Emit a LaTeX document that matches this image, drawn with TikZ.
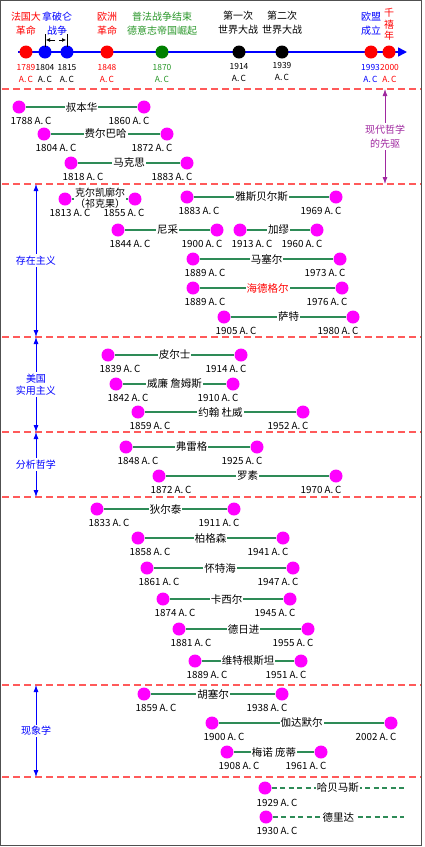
\documentclass[tikz,border=0pt]{standalone}
\usepackage{fontspec}
\setmainfont{Noto Sans CJK SC}
\usetikzlibrary{arrows.meta}
\definecolor{tred}{RGB}{255,0,0}
\definecolor{tblue}{RGB}{0,0,255}
\definecolor{tgreen}{RGB}{0,128,0}
\definecolor{tgreentext}{RGB}{40,150,40}
\definecolor{lifegreen}{RGB}{46,139,87}
\definecolor{sepred}{RGB}{255,90,90}
\definecolor{tpurple}{RGB}{160,40,160}
\definecolor{pmagenta}{RGB}{255,0,255}
\definecolor{bordergray}{RGB}{80,80,80}
\tikzset{
  tdot/.style={circle, minimum size=13pt, inner sep=0pt, draw=none},
  pdot/.style={circle, fill=pmagenta, minimum size=13pt, inner sep=0pt, draw=none},
  toplab/.style={align=center, font=\fontsize{10}{14}\selectfont, inner sep=0pt},
  topyear/.style={align=center, font=\fontsize{8.4}{12}\selectfont, inner sep=0pt},
  life/.style={draw=lifegreen, line width=2.2pt},
  lifedash/.style={draw=lifegreen, line width=2.2pt, dash pattern=on 5pt off 3.5pt},
  namebox/.style={fill=white, inner sep=1pt, font=\fontsize{10.5}{11}\selectfont},
  yearlab/.style={inner sep=0pt, font=\fontsize{9.8}{10}\selectfont},
  sep/.style={draw=sepred, line width=1.3pt, dash pattern=on 7pt off 4pt},
  sidearrow/.style={draw=tblue, line width=0.8pt, {Latex[length=7pt,width=5pt]}-{Latex[length=7pt,width=5pt]}},
  sidelab/.style={fill=white, text=tblue, align=center, inner sep=1.5pt, font=\fontsize{10}{12}\selectfont},
}
\newcommand{\philrow}[8]{%
  \node[pdot] (#1a) at (#2,#4) {};
  \node[pdot] (#1b) at (#3,#4) {};
  \draw[life] (#1a) -- (#1b) node[midway, namebox, text=#8] (#1n) {#5};
  \node[yearlab] (#1ya) at (#2+12,#4+14) {#6 A.\,C};
  \node[yearlab] (#1yb) at (#3-15,#4+14) {#7 A.\,C};
}
\begin{document}
\begin{tikzpicture}[x=1pt,y=-1pt]
\useasboundingbox (0,0) rectangle (424,847);
\draw[bordergray, line width=0.8pt] (0.5,0.5) rectangle (421.5,845.5);

% ---------- top timeline ----------
\coordinate (tl0) at (18,52);
\coordinate (tl1) at (407,52);
\draw[tblue, line width=1.6pt, -{Triangle[length=9pt,width=9pt]}] (tl0) -- (tl1);

\node[tdot, fill=tred]   (e1789) at (26,52) {};
\node[tdot, fill=tblue]  (e1804) at (45,52) {};
\node[tdot, fill=tblue]  (e1815) at (67,52) {};
\node[tdot, fill=tred]   (e1848) at (107,52) {};
\node[tdot, fill=tgreen] (e1870) at (162,52) {};
\node[tdot, fill=black]  (e1914) at (239,52) {};
\node[tdot, fill=black]  (e1939) at (282,52) {};
\node[tdot, fill=tred]   (e1993) at (371,52) {};
\node[tdot, fill=tred]   (e2000) at (389,52) {};

\node[toplab, text=tred]       (t1789) at (26,24)  {法国大\\革命};
\node[toplab, text=tblue]      (t1804) at (57,24)  {拿破仑\\战争};
\node[toplab, text=tred]       (t1848) at (107,24) {欧洲\\革命};
\node[toplab, text=tgreentext] (t1870) at (162,24) {普法战争结束\\德意志帝国崛起};
\node[toplab, text=black]      (t1914) at (238,23) {第一次\\世界大战};
\node[toplab, text=black]      (t1939) at (282,23) {第二次\\世界大战};
\node[toplab, text=tblue]      (t1993) at (371,24) {欧盟\\成立};
\node[toplab, text=tred, font=\fontsize{10}{11.5}\selectfont] (t2000) at (389,24.5) {千\\禧\\年};

% bracket for Napoleonic wars
\coordinate (bl0) at (45,34);
\coordinate (bl1) at (45,47);
\coordinate (br0) at (67,34);
\coordinate (br1) at (67,47);
\draw[black, line width=0.8pt] (bl0) -- (bl1);
\draw[black, line width=0.8pt] (br0) -- (br1);
\coordinate (ba0) at (55,40);
\coordinate (ba1) at (46,40);
\coordinate (bb0) at (59,40);
\coordinate (bb1) at (66,40);
\draw[black, line width=0.7pt, -{Latex[length=4pt,width=4pt]}] (ba0) -- (ba1);
\draw[black, line width=0.7pt, -{Latex[length=4pt,width=4pt]}] (bb0) -- (bb1);

\node[topyear, text=tred]       (y1789) at (26,74)  {1789\\A.\,C};
\node[topyear, text=black]      (y1804) at (45,74)  {1804\\A.\,C};
\node[topyear, text=black]      (y1815) at (67,74)  {1815\\A.\,C};
\node[topyear, text=tred]       (y1848) at (107,74) {1848\\A.\,C};
\node[topyear, text=tgreentext] (y1870) at (162,74) {1870\\A.\,C};
\node[topyear, text=black]      (y1914) at (239,73) {1914\\A.\,C};
\node[topyear, text=black]      (y1939) at (282,72) {1939\\A.\,C};
\node[topyear, text=tblue]      (y1993) at (370.5,74) {1993\\A.\,C};
\node[topyear, text=tred]       (y2000) at (389.5,74) {2000\\A.\,C};

% ---------- separators ----------
\foreach \yy in {89,184,337,432,497,685,777}
  \draw[sep] (2,\yy) -- (421,\yy);

% ---------- side arrows ----------
\coordinate (pa0) at (385,89);
\coordinate (pa1) at (385,184);
\draw[draw=tpurple, line width=0.8pt, {Latex[length=7pt,width=5pt]}-{Latex[length=7pt,width=5pt]}] (pa0) -- (pa1)
  node[midway, fill=white, text=tpurple, align=center, inner sep=1.5pt, font=\fontsize{10}{14}\selectfont] (pre) {现代哲学\\的先驱};

\coordinate (ex0) at (36,184);
\coordinate (ex1) at (36,337);
\draw[sidearrow] (ex0) -- (ex1) node[midway, sidelab] (exl) {存在主义};

\coordinate (am0) at (36,337);
\coordinate (am1) at (36,432);
\draw[sidearrow] (am0) -- (am1) node[midway, sidelab] (aml) {美国\\实用主义};

\coordinate (an0) at (36,432);
\coordinate (an1) at (36,497);
\draw[sidearrow] (an0) -- (an1) node[midway, sidelab] (anl) {分析哲学};

\coordinate (ph0) at (36,685);
\coordinate (ph1) at (36,777);
\draw[sidearrow] (ph0) -- (ph1) node[midway, sidelab] (phl) {现象学};

% ---------- philosophers ----------
\philrow{schop}{19}{144}{107}{叔本华}{1788}{1860}{black}
\philrow{feuer}{44}{167}{134}{费尔巴哈}{1804}{1872}{black}
\philrow{marx}{71}{187}{163}{马克思}{1818}{1883}{black}

% Kierkegaard
\node[pdot] (kierka) at (65,199) {};
\node[pdot] (kierkb) at (135,199) {};
\draw[life] (kierka) -- (kierkb) node[midway, namebox, align=center, font=\fontsize{10}{11}\selectfont, yshift=0.5pt] (kierkn) {克尔凯廓尔\\（祁克果）};
\node[yearlab] (kierkya) at (70,213) {1813 A.\,C};
\node[yearlab] (kierkyb) at (124,213) {1855 A.\,C};

\philrow{jasp}{187}{336}{197}{雅斯贝尔斯}{1883}{1969}{black}
\philrow{nietz}{118}{217}{230}{尼采}{1844}{1900}{black}
\philrow{camus}{240}{317}{230}{加缪}{1913}{1960}{black}
\philrow{marcel}{193}{340}{259}{马塞尔}{1889}{1973}{black}
\philrow{heid}{193}{342}{288}{海德格尔}{1889}{1976}{tred}
\philrow{sartre}{224}{353}{317}{萨特}{1905}{1980}{black}

\philrow{peirce}{108}{241}{355}{皮尔士}{1839}{1914}{black}
\philrow{james}{116}{233}{384}{威廉 詹姆斯}{1842}{1910}{black}
\philrow{dewey}{138}{303}{412}{约翰 杜威}{1859}{1952}{black}

\philrow{frege}{126}{257}{447}{弗雷格}{1848}{1925}{black}
\philrow{russell}{159}{336}{476}{罗素}{1872}{1970}{black}

\philrow{dilthey}{97}{234}{509}{狄尔泰}{1833}{1911}{black}
\philrow{bergson}{138}{283}{538}{柏格森}{1858}{1941}{black}
\philrow{whitehead}{147}{293}{568}{怀特海}{1861}{1947}{black}
\philrow{cassirer}{163}{290}{599}{卡西尔}{1874}{1945}{black}
\philrow{teilhard}{179}{308}{629}{德日进}{1881}{1955}{black}
\philrow{witt}{195}{301}{661}{维特根斯坦}{1889}{1951}{black}

\philrow{husserl}{144}{282}{694}{胡塞尔}{1859}{1938}{black}
\philrow{gadamer}{212}{391}{723}{伽达默尔}{1900}{2002}{black}
\philrow{merleau}{227}{321}{752}{梅诺 庞蒂}{1908}{1961}{black}

% Habermas, Derrida (living)
\node[pdot] (haba) at (265,788) {};
\coordinate (habb) at (404,788);
\draw[lifedash] (haba) -- (habb) node[midway, namebox] (habn) {哈贝马斯};
\node[yearlab] (habya) at (277,803) {1929 A.\,C};

\node[pdot] (derra) at (266,817) {};
\coordinate (derrb) at (404,817);
\draw[lifedash] (derra) -- (derrb) node[midway, namebox] (derrn) {德里达};
\node[yearlab] (derrya) at (277,831) {1930 A.\,C};
\end{tikzpicture}
\end{document}
